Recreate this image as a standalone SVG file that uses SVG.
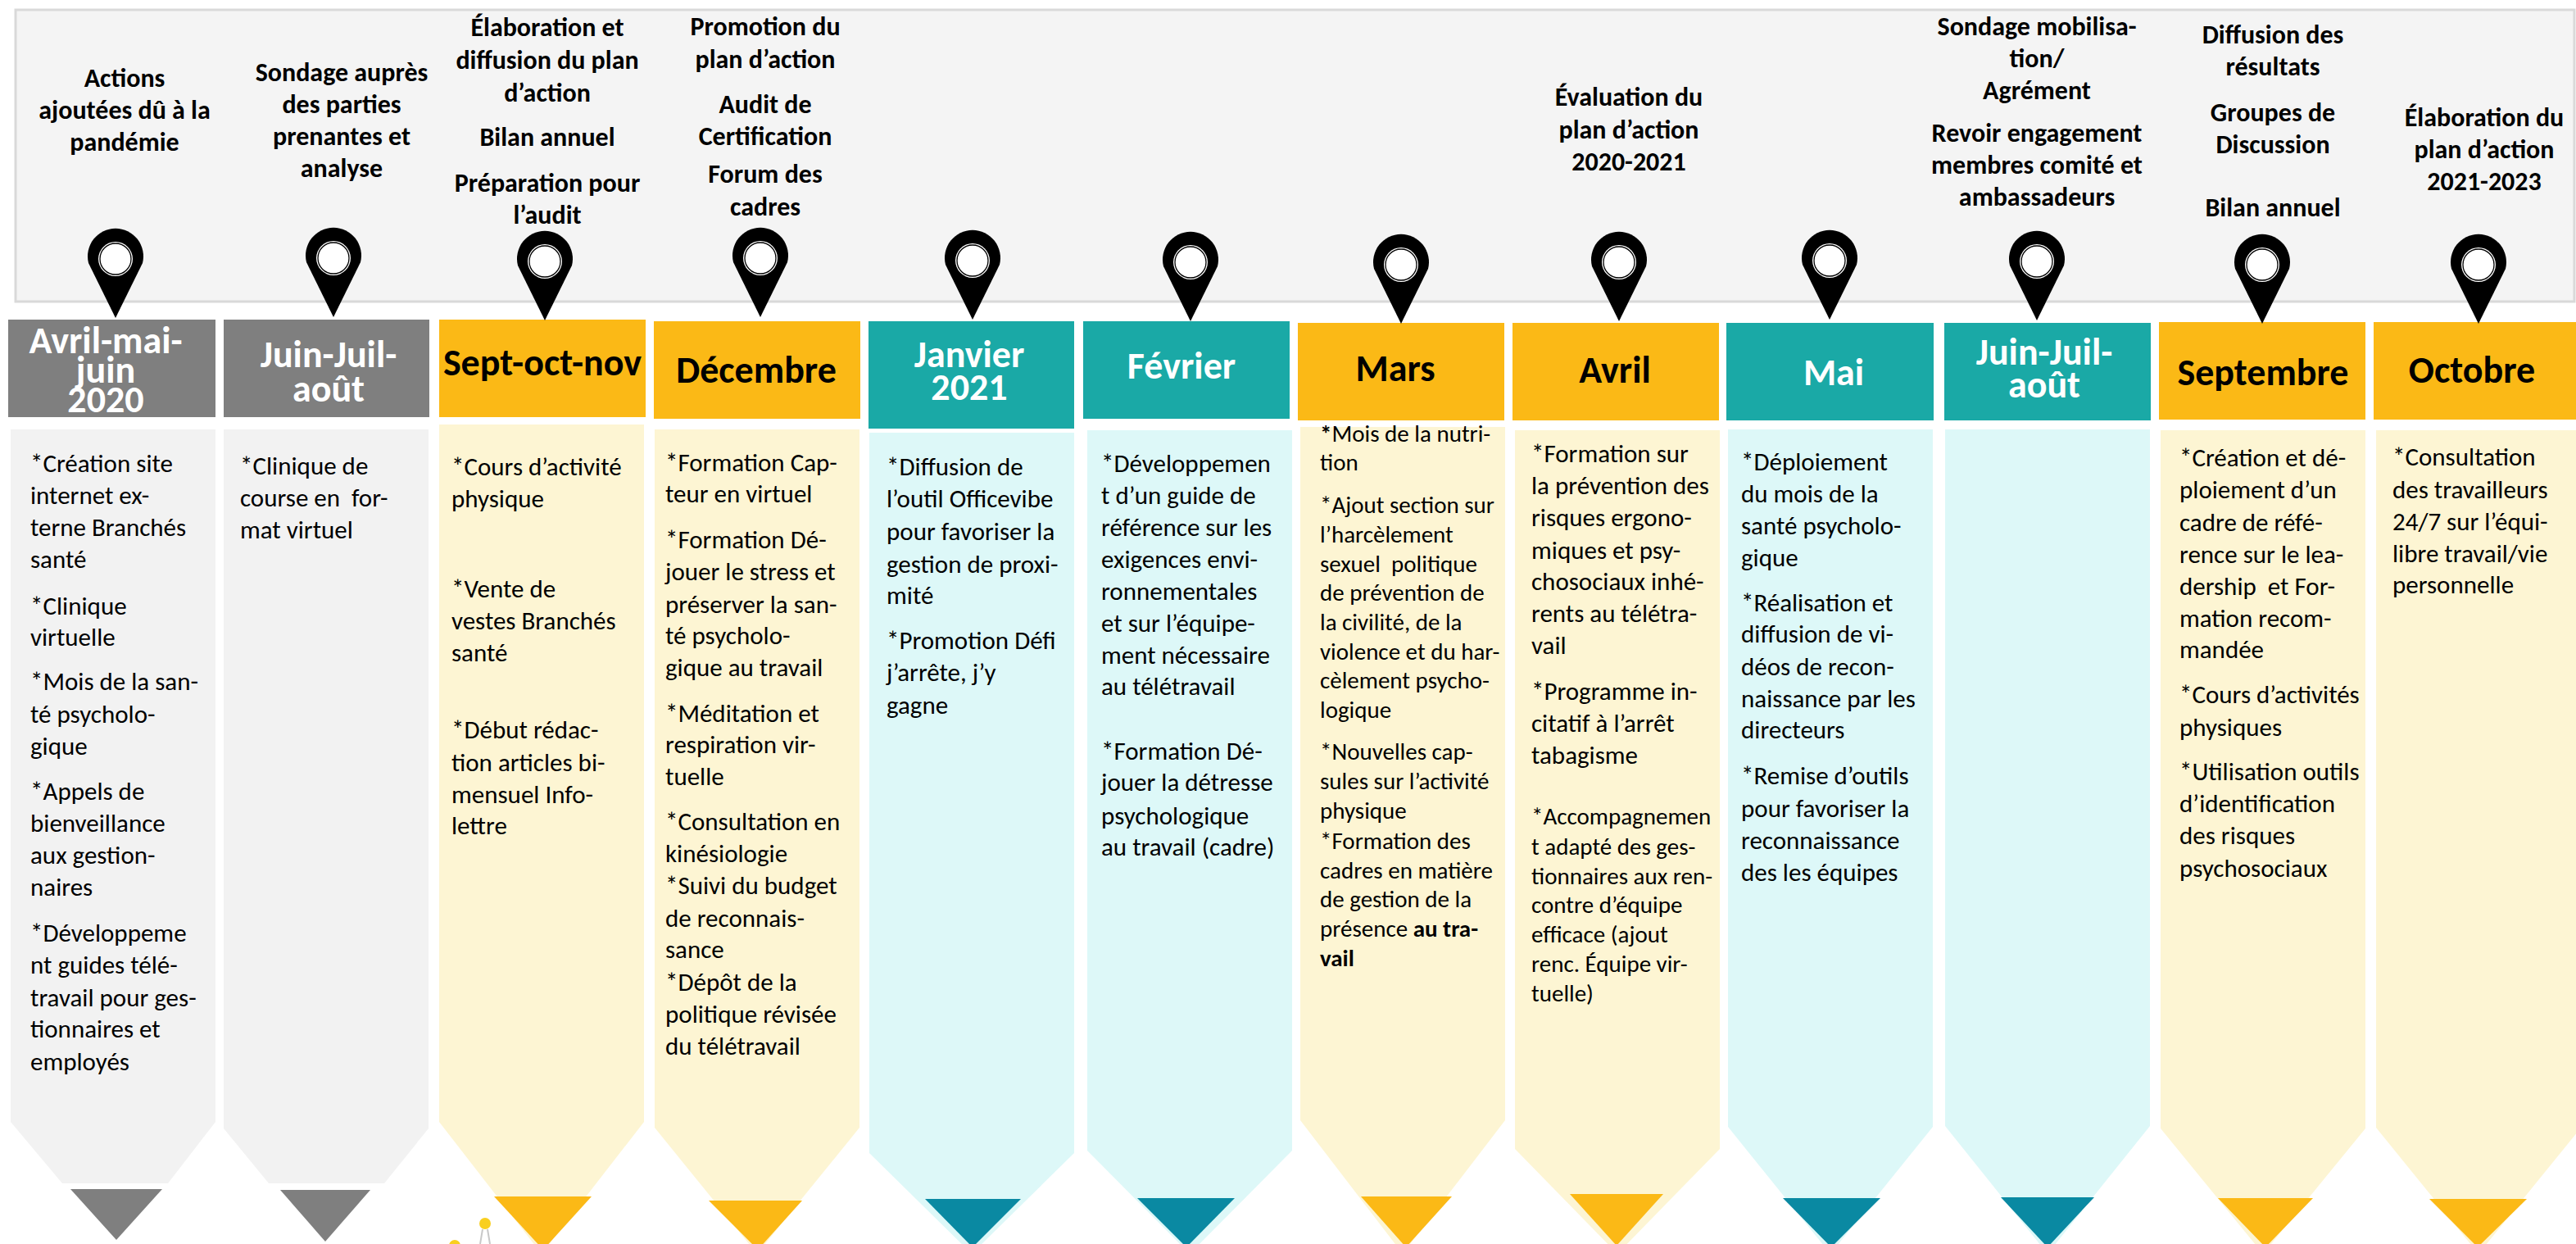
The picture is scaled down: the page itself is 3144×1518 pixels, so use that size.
<svg xmlns="http://www.w3.org/2000/svg" width="3144" height="1518" viewBox="0 0 3144 1518">
<style>
text{font-family:Carlito,Lato,"Open Sans",sans-serif;fill:#000}
.top{font-size:32px;font-weight:bold;text-anchor:middle}
.mon{font-size:46px;font-weight:bold;text-anchor:middle}
.mw{fill:#fff}
.bd{font-size:31px}
.sm{font-size:29px}
.hg{fill:#7f7f7f}.hy{fill:#fbb916}.ht{fill:#1aa9a6}
.bg{fill:#f2f2f2}.by{fill:#fdf5d3}.bt{fill:#ddf8f8}
.tg{fill:#7f7f7f}.ty{fill:#fbb916}.tt{fill:#0a89a2}
</style>
<defs>
<g id="pin">
<path d="M-33,8 A34,34 0 1 1 33,8 L0,75 Z" fill="#000"/>
<circle cx="0" cy="3" r="21" fill="#fff"/>
<circle cx="0" cy="3" r="19" fill="none" stroke="#000" stroke-width="1.3"/>
</g>
</defs>
<rect x="19" y="12" width="3123" height="356" fill="#f4f4f4" stroke="#d9d9d9" stroke-width="3"/>

<g id="col1">
<rect class="hg" x="10" y="390" width="253" height="119"/>
<path class="bg" d="M13,524 H263 V1369 L205,1444 H76 L13,1369 Z"/>
<path class="tg" d="M86,1451 H198 L142,1513 Z"/>
<use href="#pin" x="141" y="313"/>
<text class="top"><tspan x="152" y="106">Actions</tspan><tspan x="152" y="145">ajoutées dû à la</tspan><tspan x="152" y="184">pandémie</tspan></text>
<text class="mon mw"><tspan x="129" y="431">Avril-mai-</tspan><tspan x="129" y="467">juin</tspan><tspan x="129" y="503">2020</tspan></text>
<text class="bd"><tspan x="37" y="576">*Création site</tspan><tspan x="37" y="615">internet ex-</tspan><tspan x="37" y="654">terne Branchés</tspan><tspan x="37" y="693">santé</tspan><tspan x="37" y="750">*Clinique</tspan><tspan x="37" y="788">virtuelle</tspan><tspan x="37" y="842">*Mois de la san-</tspan><tspan x="37" y="882">té psycholo-</tspan><tspan x="37" y="921">gique</tspan><tspan x="37" y="976">*Appels de</tspan><tspan x="37" y="1015">bienveillance</tspan><tspan x="37" y="1054">aux gestion-</tspan><tspan x="37" y="1093">naires</tspan><tspan x="37" y="1149">*Développeme</tspan><tspan x="37" y="1188">nt guides télé-</tspan><tspan x="37" y="1228">travail pour ges-</tspan><tspan x="37" y="1266">tionnaires et</tspan><tspan x="37" y="1306">employés</tspan></text>
</g>

<g id="col2">
<rect class="hg" x="273" y="390" width="251" height="119"/>
<path class="bg" d="M273,524 H523 V1377 L469,1444 H328 L273,1377 Z"/>
<path class="tg" d="M342,1452 H452 L397,1515 Z"/>
<use href="#pin" x="407" y="312"/>
<text class="top"><tspan x="417" y="99">Sondage auprès</tspan><tspan x="417" y="138">des parties</tspan><tspan x="417" y="177">prenantes et</tspan><tspan x="417" y="216">analyse</tspan></text>
<text class="mon mw"><tspan x="401" y="448">Juin-Juil-</tspan><tspan x="401" y="490">août</tspan></text>
<text class="bd" xml:space="preserve"><tspan x="293" y="579">*Clinique de</tspan><tspan x="293" y="618">course en  for-</tspan><tspan x="293" y="657">mat virtuel</tspan></text>
</g>

<g id="col3">
<rect class="hy" x="536" y="390" width="252" height="119"/>
<path class="by" d="M536,518 H786 V1369 L661,1530 L536,1369 Z"/>
<path class="ty" d="M603,1460 H722 L663,1525 Z"/>
<use href="#pin" x="665" y="316"/>
<text class="top"><tspan x="668" y="44">Élaboration et</tspan><tspan x="668" y="84">diffusion du plan</tspan><tspan x="668" y="124">d’action</tspan><tspan x="668" y="178">Bilan annuel</tspan><tspan x="668" y="234">Préparation pour</tspan><tspan x="668" y="273">l’audit</tspan></text>
<text class="mon"><tspan x="662" y="458">Sept-oct-nov</tspan></text>
<text class="bd"><tspan x="551" y="580">*Cours d’activité</tspan><tspan x="551" y="619">physique</tspan><tspan x="551" y="729">*Vente de</tspan><tspan x="551" y="768">vestes Branchés</tspan><tspan x="551" y="807">santé</tspan><tspan x="551" y="901">*Début rédac-</tspan><tspan x="551" y="941">tion articles bi-</tspan><tspan x="551" y="980">mensuel Info-</tspan><tspan x="551" y="1018">lettre</tspan></text>
<circle cx="592" cy="1493" r="7" fill="#f9cf1f"/>
<path d="M589,1500 L586,1518 M595,1500 L598,1518" stroke="#c8c8c8" stroke-width="2" fill="none"/>
<circle cx="555" cy="1520" r="7" fill="#f9cf1f"/>
</g>

<g id="col4">
<rect class="hy" x="798" y="392" width="252" height="119"/>
<path class="by" d="M799,524 H1049 V1376 L924,1530 L799,1376 Z"/>
<path class="ty" d="M865,1465 H979 L925,1525 Z"/>
<use href="#pin" x="928" y="312"/>
<text class="top"><tspan x="934" y="43">Promotion du</tspan><tspan x="934" y="83">plan d’action</tspan><tspan x="934" y="138">Audit de</tspan><tspan x="934" y="177">Certification</tspan><tspan x="934" y="223">Forum des</tspan><tspan x="934" y="263">cadres</tspan></text>
<text class="mon"><tspan x="923" y="467">Décembre</tspan></text>
<text class="bd"><tspan x="812" y="575">*Formation Cap-</tspan><tspan x="812" y="613">teur en virtuel</tspan><tspan x="812" y="669">*Formation Dé-</tspan><tspan x="812" y="708">jouer le stress et</tspan><tspan x="812" y="748">préserver la san-</tspan><tspan x="812" y="786">té psycholo-</tspan><tspan x="812" y="825">gique au travail</tspan><tspan x="812" y="881">*Méditation et</tspan><tspan x="812" y="919">respiration vir-</tspan><tspan x="812" y="958">tuelle</tspan><tspan x="812" y="1013">*Consultation en</tspan><tspan x="812" y="1052">kinésiologie</tspan><tspan x="812" y="1091">*Suivi du budget</tspan><tspan x="812" y="1131">de reconnais-</tspan><tspan x="812" y="1169">sance</tspan><tspan x="812" y="1209">*Dépôt de la</tspan><tspan x="812" y="1248">politique révisée</tspan><tspan x="812" y="1287">du télétravail</tspan></text>
</g>

<g id="col5">
<rect class="ht" x="1060" y="392" width="251" height="131"/>
<path class="bt" d="M1061,528 H1311 V1407 L1186,1530 L1061,1407 Z"/>
<path class="tt" d="M1129,1463 H1246 L1187,1522 Z"/>
<use href="#pin" x="1187" y="315"/>
<text class="mon mw"><tspan x="1183" y="448">Janvier</tspan><tspan x="1183" y="488">2021</tspan></text>
<text class="bd"><tspan x="1082" y="580">*Diffusion de</tspan><tspan x="1082" y="619">l’outil Officevibe</tspan><tspan x="1082" y="659">pour favoriser la</tspan><tspan x="1082" y="699">gestion de proxi-</tspan><tspan x="1082" y="737">mité</tspan><tspan x="1082" y="792">*Promotion Défi</tspan><tspan x="1082" y="831">j’arrête, j’y</tspan><tspan x="1082" y="871">gagne</tspan></text>
</g>

<g id="col6">
<rect class="ht" x="1322" y="392" width="252" height="119"/>
<path class="bt" d="M1327,525 H1577 V1404 L1452,1530 L1327,1404 Z"/>
<path class="tt" d="M1388,1462 H1507 L1448,1522 Z"/>
<use href="#pin" x="1453" y="317"/>
<text class="mon mw"><tspan x="1442" y="462">Février</tspan></text>
<text class="bd"><tspan x="1344" y="576">*Développemen</tspan><tspan x="1344" y="615">t d’un guide de</tspan><tspan x="1344" y="654">référence sur les</tspan><tspan x="1344" y="693">exigences envi-</tspan><tspan x="1344" y="732">ronnementales</tspan><tspan x="1344" y="771">et sur l’équipe-</tspan><tspan x="1344" y="810">ment nécessaire</tspan><tspan x="1344" y="848">au télétravail</tspan><tspan x="1344" y="927">*Formation Dé-</tspan><tspan x="1344" y="965">jouer la détresse</tspan><tspan x="1344" y="1006">psychologique</tspan><tspan x="1344" y="1044">au travail (cadre)</tspan></text>
</g>

<g id="col7">
<rect class="hy" x="1584" y="394" width="252" height="119"/>
<path class="by" d="M1587,521 H1837 V1367 L1712,1530 L1587,1367 Z"/>
<path class="ty" d="M1661,1460 H1772 L1716,1522 Z"/>
<use href="#pin" x="1710" y="320"/>
<text class="mon"><tspan x="1703" y="465">Mars</tspan></text>
<text class="sm" xml:space="preserve"><tspan x="1611" y="539"><tspan font-weight="bold">*</tspan>Mois de la nutri-</tspan><tspan x="1611" y="574">tion</tspan><tspan x="1611" y="626">*Ajout section sur</tspan><tspan x="1611" y="662">l’harcèlement</tspan><tspan x="1611" y="698">sexuel  politique</tspan><tspan x="1611" y="733">de prévention de</tspan><tspan x="1611" y="769">la civilité, de la</tspan><tspan x="1611" y="805">violence et du har-</tspan><tspan x="1611" y="840">cèlement psycho-</tspan><tspan x="1611" y="876">logique</tspan><tspan x="1611" y="927">*Nouvelles cap-</tspan><tspan x="1611" y="963">sules sur l’activité</tspan><tspan x="1611" y="999">physique</tspan><tspan x="1611" y="1036">*Formation des</tspan><tspan x="1611" y="1072">cadres en matière</tspan><tspan x="1611" y="1107">de gestion de la</tspan><tspan x="1611" y="1143">présence <tspan font-weight="bold">au tra-</tspan></tspan><tspan x="1611" y="1179" font-weight="bold">vail</tspan></text>
</g>

<g id="col8">
<rect class="hy" x="1846" y="394" width="252" height="119"/>
<path class="by" d="M1849,525 H2099 V1402 L1974,1530 L1849,1402 Z"/>
<path class="ty" d="M1916,1457 H2030 L1973,1520 Z"/>
<use href="#pin" x="1976" y="317"/>
<text class="top"><tspan x="1988" y="129">Évaluation du</tspan><tspan x="1988" y="169">plan d’action</tspan><tspan x="1988" y="208">2020-2021</tspan></text>
<text class="mon"><tspan x="1971" y="467">Avril</tspan></text>
<text class="bd"><tspan x="1869" y="564">*Formation sur</tspan><tspan x="1869" y="603">la prévention des</tspan><tspan x="1869" y="642">risques ergono-</tspan><tspan x="1869" y="682">miques et psy-</tspan><tspan x="1869" y="720">chosociaux inhé-</tspan><tspan x="1869" y="759">rents au télétra-</tspan><tspan x="1869" y="798">vail</tspan><tspan x="1869" y="854">*Programme in-</tspan><tspan x="1869" y="893">citatif à l’arrêt</tspan><tspan x="1869" y="932">tabagisme</tspan></text>
<text class="sm"><tspan x="1869" y="1006">*Accompagnemen</tspan><tspan x="1869" y="1043">t adapté des ges-</tspan><tspan x="1869" y="1079">tionnaires aux ren-</tspan><tspan x="1869" y="1114">contre d’équipe</tspan><tspan x="1869" y="1150">efficace (ajout</tspan><tspan x="1869" y="1186">renc. Équipe vir-</tspan><tspan x="1869" y="1222">tuelle)</tspan></text>
</g>

<g id="col9">
<rect class="ht" x="2107" y="394" width="253" height="119"/>
<path class="bt" d="M2109,524 H2359 V1375 L2234,1530 L2109,1375 Z"/>
<path class="tt" d="M2176,1462 H2295 L2235,1522 Z"/>
<use href="#pin" x="2233" y="315"/>
<text class="mon mw"><tspan x="2238" y="470">Mai</tspan></text>
<text class="bd"><tspan x="2125" y="574">*Déploiement</tspan><tspan x="2125" y="613">du mois de la</tspan><tspan x="2125" y="652">santé psycholo-</tspan><tspan x="2125" y="691">gique</tspan><tspan x="2125" y="746">*Réalisation et</tspan><tspan x="2125" y="784">diffusion de vi-</tspan><tspan x="2125" y="824">déos de recon-</tspan><tspan x="2125" y="863">naissance par les</tspan><tspan x="2125" y="901">directeurs</tspan><tspan x="2125" y="957">*Remise d’outils</tspan><tspan x="2125" y="997">pour favoriser la</tspan><tspan x="2125" y="1036">reconnaissance</tspan><tspan x="2125" y="1075">des les équipes</tspan></text>
</g>

<g id="col10">
<rect class="ht" x="2373" y="394" width="252" height="119"/>
<path class="bt" d="M2374,524 H2624 V1374 L2499,1530 L2374,1374 Z"/>
<path class="tt" d="M2442,1461 H2556 L2499,1522 Z"/>
<use href="#pin" x="2486" y="316"/>
<text class="top"><tspan x="2486" y="43">Sondage mobilisa-</tspan><tspan x="2486" y="82">tion/</tspan><tspan x="2486" y="121">Agrément</tspan><tspan x="2486" y="173">Revoir engagement</tspan><tspan x="2486" y="212">membres comité et</tspan><tspan x="2486" y="251">ambassadeurs</tspan></text>
<text class="mon mw"><tspan x="2495" y="445">Juin-Juil-</tspan><tspan x="2495" y="485">août</tspan></text>
</g>

<g id="col11">
<rect class="hy" x="2635" y="393" width="252" height="119"/>
<path class="by" d="M2637,525 H2887 V1377 L2762,1530 L2637,1377 Z"/>
<path class="ty" d="M2707,1462 H2823 L2765,1522 Z"/>
<use href="#pin" x="2761" y="320"/>
<text class="top"><tspan x="2774" y="53">Diffusion des</tspan><tspan x="2774" y="92">résultats</tspan><tspan x="2774" y="148">Groupes de</tspan><tspan x="2774" y="187">Discussion</tspan><tspan x="2774" y="264">Bilan annuel</tspan></text>
<text class="mon"><tspan x="2762" y="470">Septembre</tspan></text>
<text class="bd" xml:space="preserve"><tspan x="2660" y="569">*Création et dé-</tspan><tspan x="2660" y="608">ploiement d’un</tspan><tspan x="2660" y="648">cadre de réfé-</tspan><tspan x="2660" y="687">rence sur le lea-</tspan><tspan x="2660" y="726">dership  et For-</tspan><tspan x="2660" y="765">mation recom-</tspan><tspan x="2660" y="803">mandée</tspan><tspan x="2660" y="858">*Cours d’activités</tspan><tspan x="2660" y="898">physiques</tspan><tspan x="2660" y="952">*Utilisation outils</tspan><tspan x="2660" y="991">d’identification</tspan><tspan x="2660" y="1030">des risques</tspan><tspan x="2660" y="1070">psychosociaux</tspan></text>
</g>

<g id="col12">
<rect class="hy" x="2897" y="393" width="252" height="119"/>
<path class="by" d="M2900,525 H3150 V1376 L3025,1530 L2900,1376 Z"/>
<path class="ty" d="M2965,1463 H3084 L3024,1522 Z"/>
<use href="#pin" x="3025" y="320"/>
<text class="top"><tspan x="3032" y="154">Élaboration du</tspan><tspan x="3032" y="193">plan d’action</tspan><tspan x="3032" y="232">2021-2023</tspan></text>
<text class="mon"><tspan x="3017" y="467">Octobre</tspan></text>
<text class="bd"><tspan x="2920" y="568">*Consultation</tspan><tspan x="2920" y="608">des travailleurs</tspan><tspan x="2920" y="647">24/7 sur l’équi-</tspan><tspan x="2920" y="686">libre travail/vie</tspan><tspan x="2920" y="724">personnelle</tspan></text>
</g>
<g id="connectors"/>
</svg>
